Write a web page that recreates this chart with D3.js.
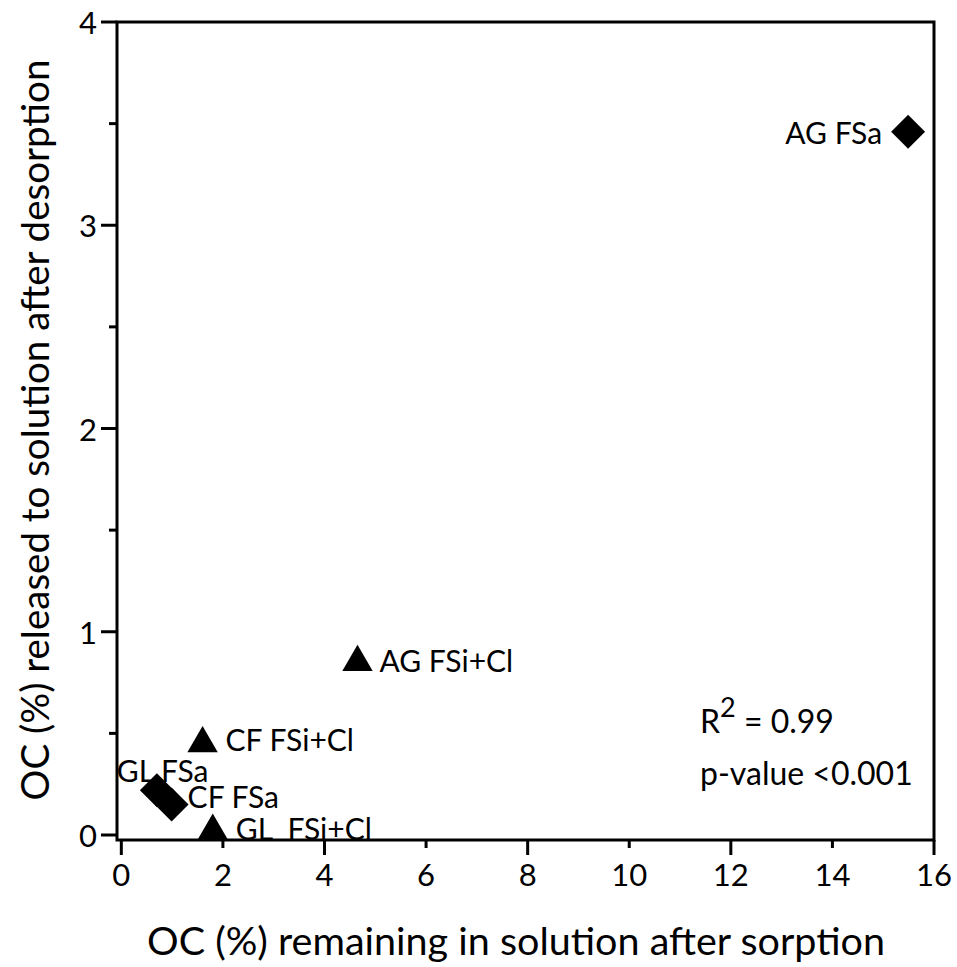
<!DOCTYPE html>
<html>
<head>
<meta charset="utf-8">
<script src="https://cdn.jsdelivr.net/npm/d3@7/dist/d3.min.js"></script>
<style>
  html, body { margin: 0; padding: 0; background: #fff; }
  svg { display: block; }
  text { font-family: Lato, "Open Sans", sans-serif; fill: #000; }
</style>
</head>
<body>
<svg id="chart" width="957" height="967"></svg>
<script>
// ---- data ----
const sampleNames = ["AG FSa", "AG FSi+Cl", "CF FSi+Cl", "GL FSa", "CF FSa", "GL  FSi+Cl"];
const shapes      = ["diamond", "triangle", "triangle", "diamond", "diamond", "triangle"];
const remainingX  = [15.49, 4.65, 1.60, 0.70, 0.99, 1.80];
const releasedY   = [3.46, 0.85, 0.45, 0.22, 0.15, 0.02];
const xTickValues = [0, 2, 4, 6, 8, 10, 12, 14, 16];
const yTickValues = [0, 1, 2, 3, 4];
const statsLines  = ["= 0.99", "p-value <0.001"];

// label layout (pixel offsets from marker, anchor)
const labelLayout = [
  {dx: -26, dy: 0,   anchor: "end"},
  {dx: 22,  dy: -2,  anchor: "start"},
  {dx: 23,  dy: -5,  anchor: "start"},
  {dx: -40, dy: -20, anchor: "start"},
  {dx: 16,  dy: -9,  anchor: "start"},
  {dx: 23,  dy: -3,  anchor: "start"}
];

const svg = d3.select("#chart");
const mLeft = 117, mRight = 934, mTop = 22, mBottom = 840;

const x = d3.scaleLinear().domain([-0.085, 16]).range([mLeft, mRight]);
const y = d3.scaleLinear().domain([-0.0246, 4]).range([mBottom, mTop]);

const tickFont = 31;

// frame
svg.append("rect")
  .attr("x", mLeft).attr("y", mTop)
  .attr("width", mRight - mLeft).attr("height", mBottom - mTop)
  .attr("fill", "none").attr("stroke", "#000").attr("stroke-width", 3);

// x axis ticks (major at multiples of 4, minor at others, labels at all)
const xAxisG = svg.append("g").attr("transform", `translate(0,${mBottom})`);
xAxisG.selectAll("line").data(xTickValues).join("line")
  .attr("x1", d => x(d)).attr("x2", d => x(d))
  .attr("y1", 0).attr("y2", d => d % 4 === 0 ? 15 : 8)
  .attr("stroke", "#000").attr("stroke-width", 3);
xAxisG.selectAll("text").data(xTickValues).join("text")
  .attr("x", d => x(d)).attr("y", 46)
  .attr("text-anchor", "middle")
  .attr("font-size", tickFont)
  .text(d => d);

// y axis ticks (major at integers, minor at halves)
const yMinor = d3.range(0.5, 4, 1);
const yAxisG = svg.append("g").attr("transform", `translate(${mLeft},0)`);
yAxisG.selectAll("line.major").data(yTickValues).join("line").attr("class", "major")
  .attr("x1", -16).attr("x2", 0)
  .attr("y1", d => y(d)).attr("y2", d => y(d))
  .attr("stroke", "#000").attr("stroke-width", 3);
yAxisG.selectAll("line.minor").data(yMinor).join("line").attr("class", "minor")
  .attr("x1", -8).attr("x2", 0)
  .attr("y1", d => y(d)).attr("y2", d => y(d))
  .attr("stroke", "#000").attr("stroke-width", 3);
yAxisG.selectAll("text").data(yTickValues).join("text")
  .attr("x", -20).attr("y", d => y(d))
  .attr("text-anchor", "end")
  .attr("dominant-baseline", "central")
  .attr("font-size", tickFont)
  .text(d => d);

// axis titles
svg.append("text")
  .attr("x", 516).attr("y", 955)
  .attr("text-anchor", "middle")
  .attr("font-size", 39.5)
  .text("OC (%) remaining in solution after sorption");
svg.append("text")
  .attr("transform", "translate(49,430) rotate(-90)")
  .attr("text-anchor", "middle")
  .attr("font-size", 38.5)
  .text("OC (%) released to solution after desorption");

// markers
const points = sampleNames.map((n, i) => ({name: n, shape: shapes[i], x: remainingX[i], y: releasedY[i], lay: labelLayout[i]}));
const diamondPath = d3.symbol().type(d3.symbolSquare).size(576)();
const trianglePath = d3.symbol().type(d3.symbolTriangle).size(400)();

svg.append("g").selectAll("path").data(points).join("path")
  .attr("d", d => d.shape === "diamond" ? diamondPath : trianglePath)
  .attr("transform", d => `translate(${x(d.x)},${y(d.y)})` + (d.shape === "diamond" ? " rotate(45)" : ""))
  .attr("fill", "#000");

svg.append("g").selectAll("text").data(points).join("text")
  .attr("x", d => x(d.x) + d.lay.dx)
  .attr("y", d => y(d.y) + d.lay.dy)
  .attr("text-anchor", d => d.lay.anchor)
  .attr("dominant-baseline", "central")
  .attr("font-size", 30)
  .style("white-space", "pre")
  .text(d => d.name);

// stats
const r2 = svg.append("text").attr("x", 700).attr("y", 720)
  .attr("dominant-baseline", "central").attr("font-size", 32);
r2.append("tspan").text("R");
r2.append("tspan").attr("font-size", 27).attr("dy", -14).text("2");
r2.append("tspan").attr("dy", 14).text(" " + statsLines[0]);
svg.append("text").attr("x", 700).attr("y", 772)
  .attr("dominant-baseline", "central").attr("font-size", 32)
  .text(statsLines[1]);
</script>
</body>
</html>
